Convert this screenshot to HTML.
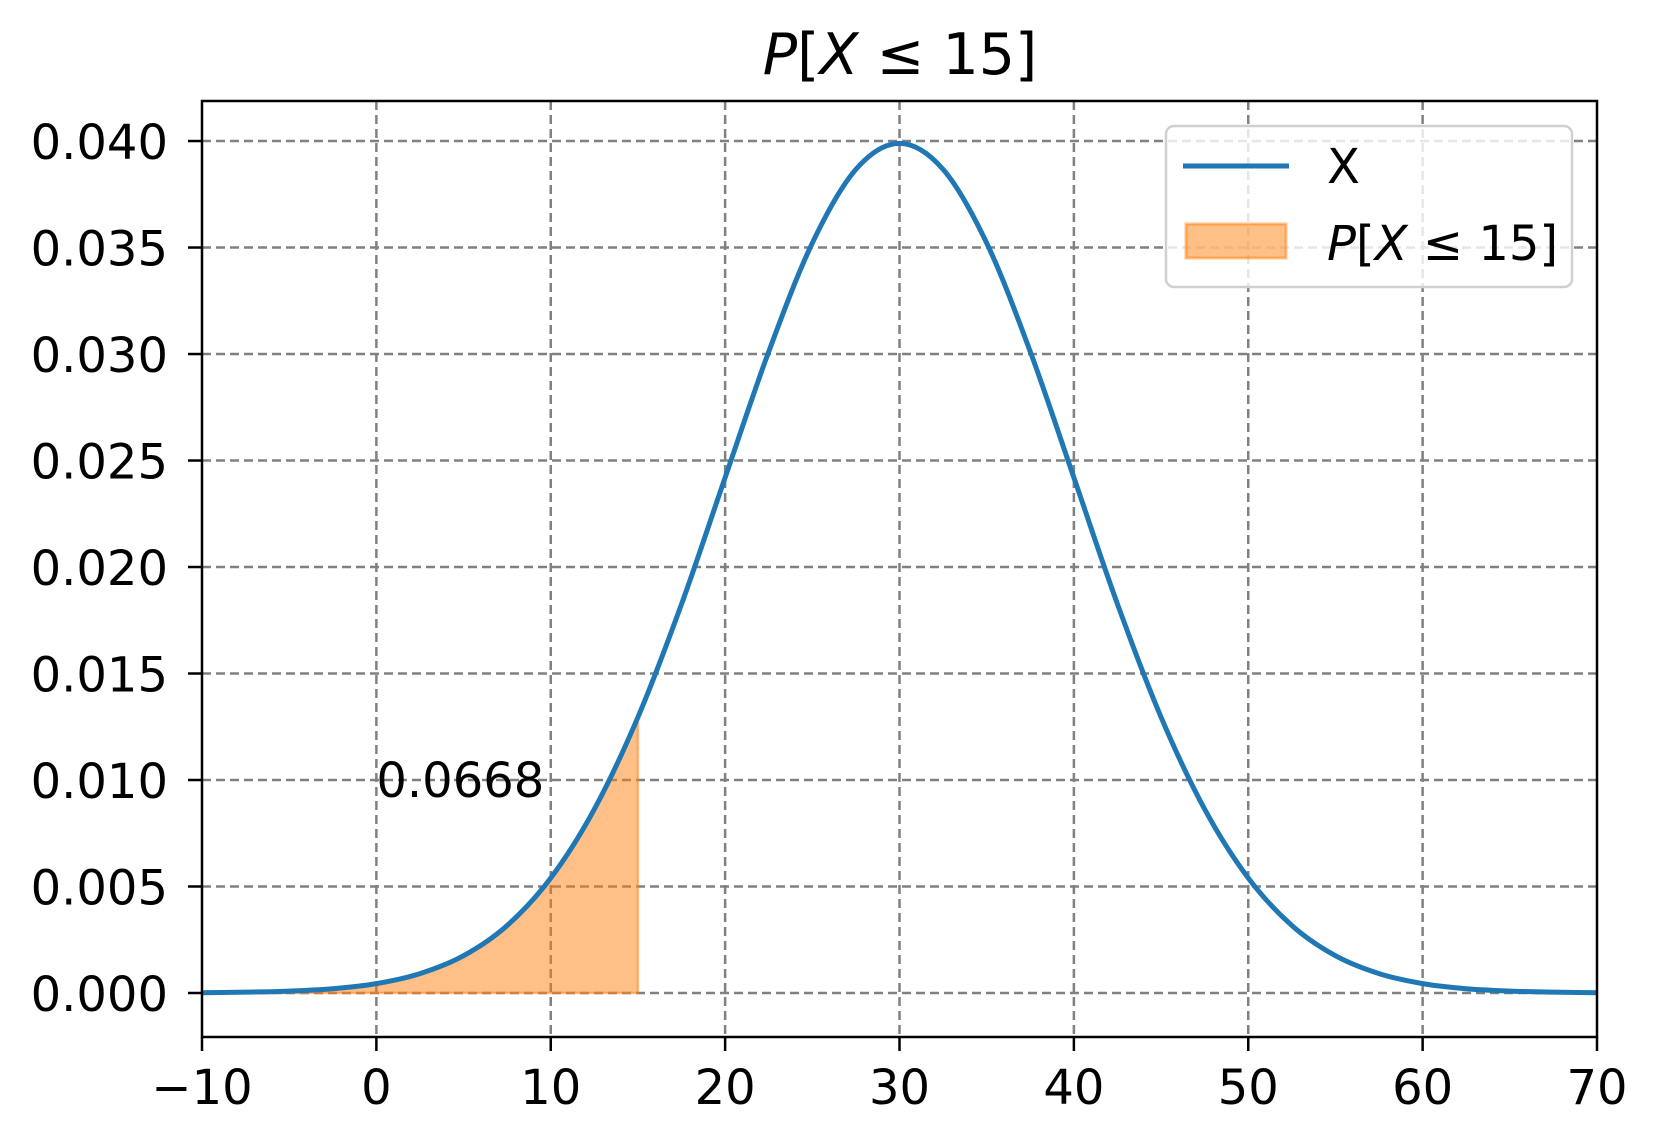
<!DOCTYPE html>
<html><head><meta charset="utf-8"><style>
body{margin:0;background:#fff;}
svg{display:block;font-family:"DejaVu Sans","Liberation Sans",sans-serif;}
</style></head><body>
<svg id="chart" width="1658" height="1144" viewBox="0 0 1658 1144">
<rect width="1658" height="1144" fill="#fff"/>
<g id="grid"></g>
<g id="marks"></g>
<rect x="202" y="101" width="1395" height="936" fill="none" stroke="#000" stroke-width="2.5"/>
<g id="ticks"></g>
<text x="900" y="74" text-anchor="middle" font-size="57"><tspan font-style="italic">P</tspan>[<tspan font-style="italic">X</tspan> ≤ 15]</text>
<g>
<rect x="1166" y="126" width="406" height="161" rx="8" fill="#fff" fill-opacity="0.8" stroke="#d0d0d0" stroke-width="2.5"/>
<line x1="1183" y1="166" x2="1289" y2="166" stroke="#1f77b4" stroke-width="5"/>
<text x="1327" y="183" font-size="48">X</text>
<rect x="1186" y="224" width="100" height="34" fill="#ff7f0e" fill-opacity="0.5" stroke="#ff7f0e" stroke-opacity="0.5" stroke-width="3"/>
<text x="1327" y="260" font-size="48"><tspan font-style="italic">P</tspan>[<tspan font-style="italic">X</tspan> ≤ 15]</text>
</g>
</svg>
<script>
const xs = [-10,-7.5,-5,-2.5,0,2.5,5,7.5,10,12.5,15,17.5,20,22.5,25,27.5,30,32.5,35,37.5,40,42.5,45,47.5,50,52.5,55,57.5,60,62.5,65,67.5,70];
const ys = [0.00001,0.00004,0.00009,0.00020,0.00044,0.00091,0.00175,0.00317,0.00540,0.00863,0.01295,0.01826,0.02420,0.03011,0.03521,0.03867,0.03989,0.03867,0.03521,0.03011,0.02420,0.01826,0.01295,0.00863,0.00540,0.00317,0.00175,0.00091,0.00044,0.00020,0.00009,0.00004,0.00001];
const fillUpTo = 15;
const areaLabel = "0.0668";
const areaLabelX = 0;
const areaLabelY = 0.010;
const xTicks = [-10,0,10,20,30,40,50,60,70];
const xTickLabels = ["−10","0","10","20","30","40","50","60","70"];
const yTicks = [0,0.005,0.010,0.015,0.020,0.025,0.030,0.035,0.040];
const yTickLabels = ["0.000","0.005","0.010","0.015","0.020","0.025","0.030","0.035","0.040"];

const X0=202,X1=1597,Y0=1037,Y1=101;
const xmin=-10,xmax=70,ymin=-0.002066,ymax=0.04188;
const sx=v=>X0+(v-xmin)/(xmax-xmin)*(X1-X0);
const sy=v=>Y0-(v-ymin)/(ymax-ymin)*(Y0-Y1);
const NS="http://www.w3.org/2000/svg";
function mk(tag,attrs,parent){const e=document.createElementNS(NS,tag);for(const k in attrs)e.setAttribute(k,attrs[k]);parent.appendChild(e);return e;}
const grid=document.getElementById('grid'),marks=document.getElementById('marks'),ticks=document.getElementById('ticks');

xTicks.forEach((t,i)=>{
  const x=sx(t);
  if(t>xmin&&t<xmax){const g=mk('line',{x1:x,x2:x,y1:Y1,y2:Y0,stroke:'#808080','stroke-width':2.5,'stroke-dasharray':'9,5'},grid);
  
  }
  const tk=mk('line',{x1:x,x2:x,y1:Y0,y2:Y0+14,stroke:'#000','stroke-width':2.5},ticks);
  
  
  const tl=mk('text',{x:x,y:Y0+67,'text-anchor':'middle','font-size':48},ticks);
  tl.textContent=xTickLabels[i];
  
  
});
yTicks.forEach((t,i)=>{
  const y=sy(t);
  const g=mk('line',{x1:X0,x2:X1,y1:y,y2:y,stroke:'#808080','stroke-width':2.5,'stroke-dasharray':'9,5'},grid);
  
  
  const tk=mk('line',{x1:X0-14,x2:X0,y1:y,y2:y,stroke:'#000','stroke-width':2.5},ticks);
  
  
  const tl=mk('text',{x:X0-34,y:y+18,'text-anchor':'end','font-size':48},ticks);
  tl.textContent=yTickLabels[i];
  
  
});

function curvePath(n){
  const P=[];for(let i=0;i<n;i++)P.push([sx(xs[i]),sy(ys[i])]);
  let d='M'+P[0][0]+','+P[0][1];
  for(let i=0;i<n-1;i++){
    const p0=P[Math.max(i-1,0)],p1=P[i],p2=P[i+1],p3=P[Math.min(i+2,n-1)];
    const c1=[p1[0]+(p2[0]-p0[0])/6,p1[1]+(p2[1]-p0[1])/6];
    const c2=[p2[0]-(p3[0]-p1[0])/6,p2[1]-(p3[1]-p1[1])/6];
    d+=' C'+c1[0]+','+c1[1]+' '+c2[0]+','+c2[1]+' '+p2[0]+','+p2[1];
  }
  return d;
}
const nFill=xs.filter(v=>v<=fillUpTo).length;
const area=mk('path',{d:curvePath(nFill)+' L'+sx(xs[nFill-1])+','+sy(0)+' L'+sx(xs[0])+','+sy(0)+' Z',fill:'#ff7f0e','fill-opacity':0.5,stroke:'#ff7f0e','stroke-opacity':0.5,'stroke-width':2.5},marks);


const line=mk('path',{d:curvePath(xs.length),fill:'none',stroke:'#1f77b4','stroke-width':5},marks);


const lab=mk('text',{x:sx(areaLabelX),y:sy(areaLabelY)+17,'font-size':48},marks);
lab.textContent=areaLabel;


</script>
</body></html>
